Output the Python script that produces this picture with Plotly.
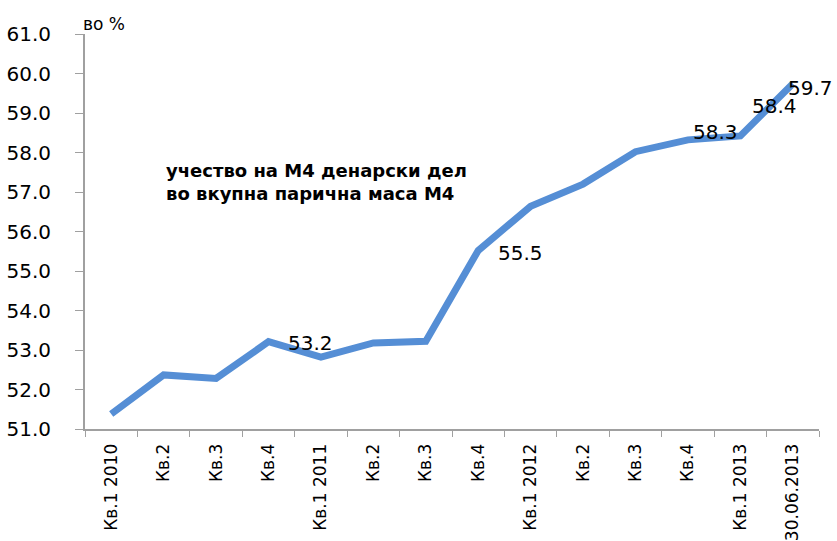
import plotly.graph_objects as go

categories = ["Кв.1 2010", "Кв.2 ", "Кв.3 ", "Кв.4 ", "Кв.1 2011", "Кв.2  ", "Кв.3  ", "Кв.4  ",
              "Кв.1 2012", "Кв.2   ", "Кв.3   ", "Кв.4   ", "Кв.1 2013", "30.06.2013"]
values = [51.38, 52.37, 52.28, 53.21, 52.82, 53.18, 53.22, 55.52, 56.64, 57.2, 58.02, 58.32, 58.42, 59.74]
tick_labels = ["Кв.1 2010", "Кв.2", "Кв.3", "Кв.4", "Кв.1 2011", "Кв.2", "Кв.3", "Кв.4",
               "Кв.1 2012", "Кв.2", "Кв.3", "Кв.4", "Кв.1 2013", "30.06.2013"]
label_idx = [3, 7, 11, 12, 13]
label_text = ["53.2", "55.5", "58.3", "58.4", "59.7"]
label_dx = [42, 42, 28, 34, 18]
label_dy = [-1, -3, 8, 30, -4]

fig = go.Figure()
fig.add_trace(go.Scatter(
    x=categories, y=values, mode="lines",
    line=dict(color="#558ED5", width=7),
    hoverinfo="x+y", showlegend=False,
))

for i, t, dx, dy in zip(label_idx, label_text, label_dx, label_dy):
    fig.add_annotation(x=categories[i], y=values[i], text=t, showarrow=False,
                       xshift=dx, yshift=dy,
                       font=dict(family="DejaVu Sans", size=20, color="#000000"))

fig.add_annotation(xref="paper", yref="paper", x=(164 - 85) / 734, y=(429 - 182) / 395,
                   xanchor="left", yanchor="middle", align="left", showarrow=False,
                   text="<b>учество на М4 денарски дел<br>во вкупна парична маса М4</b>",
                   font=dict(family="DejaVu Sans", size=18, color="#000000"))

fig.add_annotation(xref="paper", yref="paper", x=(104 - 85) / 734, y=(429 - 24) / 395,
                   xanchor="center", yanchor="middle", showarrow=False,
                   text="во %", font=dict(family="DejaVu Sans", size=17, color="#000000"))

fig.update_layout(
    width=837, height=541,
    margin=dict(l=85, r=18, t=34, b=112, autoexpand=False),
    paper_bgcolor="white", plot_bgcolor="white",
    xaxis=dict(
        type="category", range=[-0.5, 13.5], automargin=False,
        tickmode="array", tickvals=categories, ticktext=tick_labels,
        tickangle=-90, ticks="outside", ticklen=6, tickcolor="#a0a0a0",
        tickson="boundaries", ticklabelstandoff=6,
        showline=True, linecolor="#a0a0a0", linewidth=2, showgrid=False, zeroline=False,
        tickfont=dict(family="DejaVu Sans", size=17, color="#000000"),
    ),
    yaxis=dict(
        range=[51, 61], dtick=1, tick0=51, tickformat=".1f", automargin=False,
        ticks="outside", ticklen=8, tickcolor="#a0a0a0",
        showline=True, linecolor="#a0a0a0", linewidth=2, showgrid=False, zeroline=False,
        ticklabelstandoff=20,
        tickfont=dict(family="DejaVu Sans", size=20, color="#000000"),
    ),
)

fig.write_html("out.html", config={"displayModeBar": False},
               post_script="document.body.style.margin='0';document.body.style.overflow='hidden';")
